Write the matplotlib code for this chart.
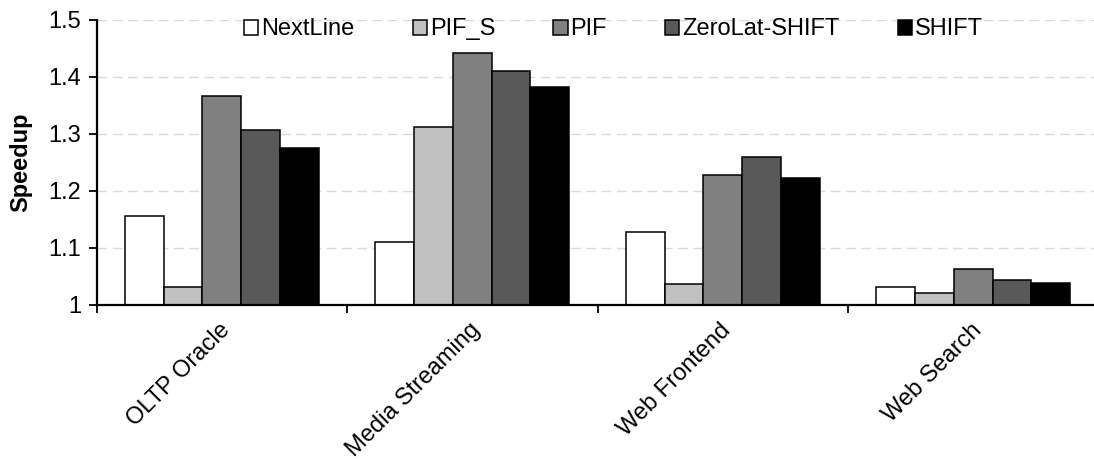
import matplotlib
matplotlib.use("Agg")
import matplotlib.pyplot as plt
import numpy as np
from matplotlib.patches import Rectangle
from matplotlib.transforms import ScaledTranslation

plt.rcParams['font.family'] = ['Liberation Sans', 'DejaVu Sans']

categories = ["OLTP Oracle", "Media Streaming", "Web Frontend", "Web Search"]
series_names = ["NextLine", "PIF_S", "PIF", "ZeroLat-SHIFT", "SHIFT"]
values = {
    "NextLine":      [1.155, 1.110, 1.128, 1.031],
    "PIF_S":         [1.031, 1.311, 1.036, 1.021],
    "PIF":           [1.366, 1.441, 1.227, 1.062],
    "ZeroLat-SHIFT": [1.307, 1.409, 1.258, 1.043],
    "SHIFT":         [1.275, 1.382, 1.222, 1.038],
}
colors = ["#FFFFFF", "#C0C0C0", "#808080", "#595959", "#000000"]
y_ticks = [1, 1.1, 1.2, 1.3, 1.4, 1.5]
y_ticklabels = ["1", "1.1", "1.2", "1.3", "1.4", "1.5"]

FS = 17
W, H = 1094, 459
fig = plt.figure(figsize=(W / 100, H / 100), dpi=100)
ax = fig.add_axes([96.5 / W, (H - 304.5) / H, (1098.5 - 96.5) / W, (304.5 - 19.5) / H])

n = len(series_names)
bw = 0.155
x = np.arange(len(categories)) + 0.5
for i, name in enumerate(series_names):
    offs = (i - (n - 1) / 2) * bw
    ax.bar(x + offs, np.array(values[name]) - 1.0, bottom=1.0, width=bw,
           color=colors[i], edgecolor="black", linewidth=1.1, zorder=3)

ax.set_xlim(0, len(categories))
ax.set_ylim(1.0, 1.5)
ax.set_yticks(y_ticks)
ax.set_yticklabels(y_ticklabels, fontsize=FS)
for yv in y_ticks[1:]:
    ax.axhline(yv, color="#D9D9D9", linewidth=1.0, linestyle=(0, (7, 4)), zorder=1)

ax.set_xticks(x)
ax.set_xticklabels(categories, fontsize=FS, rotation=45, ha="right", va="center",
                   rotation_mode="anchor")
ax.set_xticks(np.arange(len(categories) + 1), minor=True)
ax.tick_params(axis="x", which="major", length=0, pad=16)
ax.tick_params(axis="x", which="minor", length=6, width=1.3, direction="out")
ax.tick_params(axis="y", length=6, width=1.3, direction="out", pad=5)
shift = ScaledTranslation(5 / 100, 0, fig.dpi_scale_trans)
for lbl in ax.get_xticklabels():
    lbl.set_transform(lbl.get_transform() + shift)

for s in ["top", "right"]:
    ax.spines[s].set_visible(False)
for s in ["left", "bottom"]:
    ax.spines[s].set_linewidth(1.6)
    ax.spines[s].set_zorder(4)

ax.set_ylabel("Speedup", fontsize=FS, fontweight="bold")
ax.yaxis.set_label_coords(-64 / 1002, 0.5)

handles = [Rectangle((0, 0), 1, 1, facecolor=c, edgecolor="black", linewidth=1.1)
           for c in colors]
leg = ax.legend(handles, series_names, ncol=5, loc="center",
                bbox_to_anchor=(0.516, 0.965), frameon=False, fontsize=FS,
                handlelength=0.6, handleheight=0.6, handletextpad=0.12,
                columnspacing=2.47, borderpad=0)
leg.set_zorder(5)

fig.savefig("out.png", dpi=100, facecolor="white")
